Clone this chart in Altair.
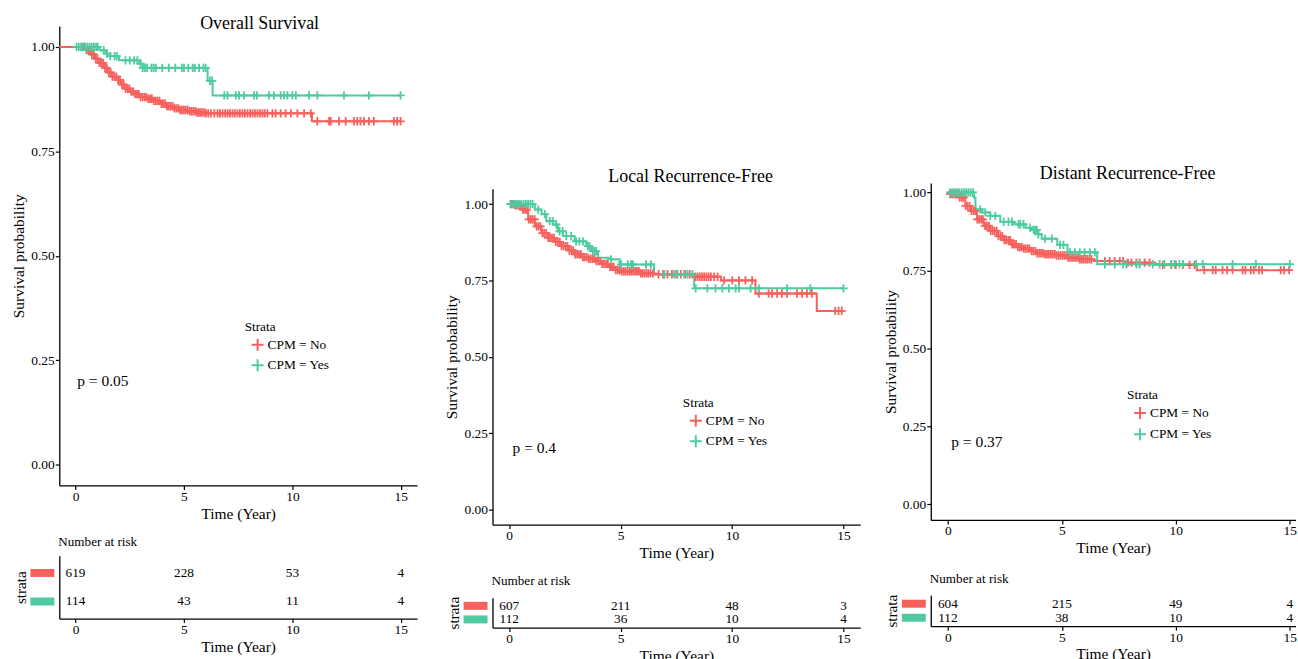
import altair as alt
import numpy as np
import pandas as pd

RED = "#F6605D"
GREEN = "#4FCBA0"
FONT = "Liberation Serif"
STRATA = ["CPM = No", "CPM = Yes"]
PLUS = "M-1,0L1,0M0,-1L0,1"
BAR = "M-1,-0.3333L1,-0.3333L1,0.3333L-1,0.3333Z"
X_TICKS = [0, 5, 10, 15]
Y_TICKS = [0, 0.25, 0.5, 0.75, 1.0]
RISK_TIMES = [0, 5, 10, 15]

TITLES = ["Overall Survival", "Local Recurrence-Free", "Distant Recurrence-Free"]
PVALUES = ["p = 0.05", "p = 0.4", "p = 0.37"]

# ---------------- Overall Survival ----------------
os_no_t = [-0.75, 0.35, 0.5, 0.7, 0.9, 1.1, 1.3, 1.5, 1.7, 1.9, 2.1, 2.3, 2.5, 2.7, 3.0, 3.3,
           3.6, 3.9, 4.2, 4.5, 4.8, 5.2, 5.6, 6.0, 10.9, 15.0]
os_no_s = [1.0, 1.0, 0.993, 0.982, 0.972, 0.962, 0.950, 0.939, 0.929, 0.921, 0.910, 0.900, 0.893,
           0.887, 0.880, 0.876, 0.871, 0.864, 0.858, 0.853, 0.849, 0.846, 0.843, 0.841, 0.822, 0.822]
os_yes_t = [0, 1.1, 1.38, 1.6, 2.0, 2.95, 3.1, 6.09, 6.32, 15.0]
os_yes_s = [1.0, 0.992, 0.984, 0.978, 0.968, 0.960, 0.950, 0.919, 0.884, 0.884]
os_no_cens = [0.32, 0.41, 0.5, 0.58, 0.67, 0.75, 0.84, 0.93, 1.01, 1.1, 1.18, 1.27, 1.36, 1.44,
              1.53, 1.62, 1.7, 1.79, 1.88, 1.96, 2.05, 2.14, 2.22, 2.31, 2.4, 2.48, 2.57, 2.66,
              2.74, 2.83, 2.92, 3.0, 3.09, 3.18, 3.26, 3.35, 3.44, 3.52, 3.61, 3.7, 3.78, 3.87,
              3.96, 4.04, 4.13, 4.22, 4.3, 4.39, 4.48, 4.56, 4.65, 4.74, 4.82, 4.91, 5.0, 5.08,
              5.17, 5.26, 5.34, 5.43, 5.52, 5.6, 5.69, 5.78, 5.86, 5.95, 6.01, 6.12, 6.24, 6.4,
              6.55, 6.66, 6.78, 6.9, 7.01, 7.12, 7.24, 7.35, 7.47, 7.58, 7.7, 7.81, 7.93, 8.05,
              8.16, 8.27, 8.39, 8.5, 8.62, 8.73, 8.85, 9.08, 9.23, 9.46, 9.69, 9.93, 10.23,
              10.54, 10.85, 11.15, 11.69, 11.77, 12.15, 12.46, 12.84, 12.99, 13.14, 13.3, 13.53,
              13.76, 14.68, 14.83, 14.99]
os_yes_cens = [0.05, 0.15, 0.25, 0.35, 0.45, 0.55, 0.65, 0.75, 0.85, 0.95, 1.02, 1.3, 1.45, 1.6,
               1.8, 1.9, 2.3, 2.5, 2.7, 2.85, 3.0, 3.1, 3.2, 3.3, 3.5, 3.6, 3.7, 4.0, 4.3, 4.6,
               4.9, 5.0, 5.2, 5.4, 5.5, 5.7, 5.9, 6.0, 6.2, 6.3, 6.86, 7.01, 7.39, 7.54, 7.77,
               8.23, 8.36, 8.92, 9.15, 9.46, 9.62, 9.77, 10.0, 10.16, 10.77, 11.15, 12.38,
               13.53, 14.99]
os_risk_no = [619, 228, 53, 4]
os_risk_yes = [114, 43, 11, 4]

# ---------------- Local Recurrence-Free ----------------
lr_no_t = [0, 0.25, 0.55, 0.85, 1.15, 1.45, 1.75, 2.05, 2.35, 2.65, 2.95, 3.25, 3.55, 3.85,
           4.15, 4.45, 4.75, 5.0, 5.9, 6.5, 8.3, 9.5, 11.05, 13.8, 15.0]
lr_no_s = [1.0, 0.996, 0.982, 0.950, 0.927, 0.905, 0.889, 0.876, 0.862, 0.848, 0.835, 0.826,
           0.821, 0.813, 0.804, 0.794, 0.784, 0.780, 0.773, 0.770, 0.762, 0.750, 0.707, 0.650,
           0.650]
lr_yes_t = [0, 1.15, 1.45, 1.67, 1.97, 2.19, 2.41, 2.93, 3.46, 3.68, 3.98, 4.57, 4.95, 6.5,
            8.3, 15.0]
lr_yes_s = [1.0, 0.982, 0.967, 0.944, 0.933, 0.911, 0.895, 0.878, 0.862, 0.846, 0.824, 0.819,
            0.802, 0.770, 0.724, 0.724]
lr_no_cens = [0.1, 0.19, 0.27, 0.36, 0.45, 0.53, 0.62, 0.71, 0.79, 0.88, 0.97, 1.05, 1.14, 1.23,
              1.31, 1.4, 1.49, 1.57, 1.66, 1.75, 1.83, 1.92, 2.01, 2.09, 2.18, 2.27, 2.35, 2.44,
              2.53, 2.61, 2.7, 2.79, 2.87, 2.96, 3.05, 3.13, 3.22, 3.31, 3.39, 3.48, 3.57, 3.65,
              3.74, 3.83, 3.91, 4.0, 4.09, 4.17, 4.26, 4.35, 4.43, 4.52, 4.61, 4.69, 4.78, 4.87,
              4.95, 5.04, 5.13, 5.21, 5.3, 5.39, 5.47, 5.56, 5.65, 5.73, 5.82, 5.91, 5.99, 6.08,
              6.17, 6.25, 6.34, 6.45, 6.7, 6.9, 7.1, 7.3, 7.5, 7.7, 7.9, 8.1, 8.35, 8.45, 8.55,
              8.65, 8.75, 8.85, 8.95, 9.05, 9.2, 9.35, 9.64, 10.01, 10.31, 10.6, 10.9, 11.2,
              11.64, 11.79, 12.02, 12.24, 12.47, 12.91, 13.14, 13.36, 13.58, 14.63, 14.78, 14.92]
lr_yes_cens = [0.05, 0.15, 0.25, 0.35, 0.45, 0.55, 0.65, 0.75, 0.85, 0.95, 1.05, 1.3, 1.6, 1.82,
               1.95, 2.11, 2.26, 2.4, 2.56, 2.78, 3.0, 3.15, 3.31, 3.53, 3.6, 3.75, 3.83, 3.9,
               4.57, 5.02, 5.32, 5.47, 5.55, 6.14, 6.36, 6.96, 7.4, 7.55, 7.85, 8.0, 8.22, 8.37,
               8.89, 9.26, 9.56, 9.86, 10.16, 10.31, 10.83, 11.2, 12.47, 13.51, 15.0]
lr_risk_no = [607, 211, 48, 3]
lr_risk_yes = [112, 36, 10, 4]

# ---------------- Distant Recurrence-Free ----------------
dr_no_t = [0, 0.05, 0.5, 0.77, 0.99, 1.28, 1.57, 1.86, 2.15, 2.45, 2.74, 3.03, 3.32, 3.61,
           3.90, 4.19, 4.77, 5.21, 5.79, 6.4, 7.7, 9.1, 10.92, 15.0]
dr_no_s = [1.0, 0.995, 0.984, 0.957, 0.941, 0.914, 0.893, 0.877, 0.860, 0.847, 0.834, 0.825,
           0.820, 0.812, 0.805, 0.802, 0.798, 0.791, 0.786, 0.780, 0.775, 0.768, 0.751, 0.751]
dr_yes_t = [0, 1.14, 1.21, 1.5, 1.86, 2.3, 2.9, 3.4, 3.7, 3.97, 4.12, 4.8, 5.25, 6.55, 15.0]
dr_yes_s = [1.0, 0.984, 0.946, 0.936, 0.925, 0.906, 0.898, 0.887, 0.880, 0.866, 0.852, 0.832,
            0.808, 0.770, 0.770]
dr_no_cens = [0.1, 0.18, 0.27, 0.35, 0.44, 0.52, 0.61, 0.69, 0.78, 0.86, 0.95, 1.03, 1.12, 1.2,
              1.29, 1.37, 1.46, 1.54, 1.63, 1.71, 1.8, 1.88, 1.97, 2.05, 2.14, 2.22, 2.31, 2.39,
              2.48, 2.56, 2.65, 2.73, 2.82, 2.9, 2.99, 3.07, 3.16, 3.24, 3.33, 3.41, 3.5, 3.58,
              3.67, 3.75, 3.84, 3.92, 4.01, 4.09, 4.18, 4.26, 4.35, 4.43, 4.52, 4.6, 4.69, 4.77,
              4.86, 4.94, 5.03, 5.11, 5.2, 5.28, 5.37, 5.45, 5.54, 5.62, 5.71, 5.79, 5.88, 5.96,
              6.05, 6.13, 6.22, 6.3, 6.89, 7.1, 7.32, 7.54, 7.69, 7.9, 8.05, 8.27, 8.41, 8.63,
              8.85, 9.43, 9.8, 10.0, 10.31, 10.6, 10.82, 11.25, 11.62, 11.75, 12.05, 12.25,
              12.49, 12.93, 13.05, 13.29, 13.42, 13.65, 13.78, 14.6, 14.75, 14.97]
dr_yes_cens = [0.1, 0.2, 0.3, 0.4, 0.5, 0.6, 0.7, 0.8, 0.9, 1.0, 1.1, 1.42, 1.64, 1.86, 2.08,
               2.45, 2.66, 2.81, 3.1, 3.18, 3.32, 3.61, 3.76, 3.83, 3.9, 3.97, 4.26, 4.56, 4.92,
               5.07, 5.36, 5.57, 5.79, 6.0, 6.23, 6.45, 6.89, 7.32, 7.69, 7.83, 8.27, 8.41, 8.99,
               9.29, 9.5, 9.8, 9.95, 10.16, 10.31, 10.89, 11.18, 12.49, 13.51, 15.0]
dr_risk_no = [604, 215, 49, 4]
dr_risk_yes = [112, 38, 10, 4]


def surv_at(ts, ss, t):
    i = int(np.searchsorted(np.asarray(ts), t, side="right")) - 1
    return ss[max(i, 0)]


def curves_df(no_t, no_s, yes_t, yes_s):
    a = pd.DataFrame({"t": no_t, "s": no_s, "strata": STRATA[0]})
    b = pd.DataFrame({"t": yes_t, "s": yes_s, "strata": STRATA[1]})
    return pd.concat([a, b], ignore_index=True)


def cens_df(no_t, no_s, no_c, yes_t, yes_s, yes_c):
    rows = [{"t": c, "s": surv_at(no_t, no_s, c), "strata": STRATA[0]} for c in no_c]
    rows += [{"t": c, "s": surv_at(yes_t, yes_s, c), "strata": STRATA[1]} for c in yes_c]
    return pd.DataFrame(rows)


def risk_df(no, yes):
    return pd.DataFrame({"t": RISK_TIMES * 2,
                         "strata": [STRATA[0]] * 4 + [STRATA[1]] * 4,
                         "n": list(no) + list(yes)})


COLOR_SCALE = alt.Scale(domain=STRATA, range=[RED, GREEN])


def x_axis():
    return alt.Axis(values=X_TICKS, title="Time (Year)", format="d", tickSize=4,
                    labelPadding=0, titlePadding=3.3, labelFontSize=13.5, titleFontSize=15.5,
                    labelFlush=False)


def panel(cfg):
    xs = alt.Scale(domain=cfg["xdom"], nice=False, zero=False)
    ys = alt.Scale(domain=cfg["ydom"], nice=False, zero=False)
    xa = x_axis()
    ya = alt.Axis(values=Y_TICKS, format=".2f", title="Survival probability", tickSize=4,
                  labelPadding=1, titlePadding=4, labelFontSize=13.5, titleFontSize=15.5,
                  labelFlush=False)
    X = alt.X("t:Q", scale=xs, axis=xa)
    Y = alt.Y("s:Q", scale=ys, axis=ya)
    legend = alt.Legend(title="Strata", orient="none", legendX=cfg["legx"], legendY=cfg["legy"],
                        symbolType=PLUS, symbolSize=144, symbolStrokeWidth=2, symbolOffset=6,
                        labelOffset=3, rowPadding=cfg["rowpad"], titlePadding=4.4, padding=0,
                        titleFont=FONT, titleFontSize=13.3, titleFontWeight="normal",
                        labelFont=FONT, labelFontSize=13.4, titleColor="black",
                        labelColor="black")
    C = alt.Color("strata:N", scale=COLOR_SCALE, legend=legend)
    lines = alt.Chart(cfg["curves"]).mark_line(interpolate="step-after", strokeWidth=2).encode(
        x=X, y=Y, color=C)
    pts = alt.Chart(cfg["cens"]).mark_point(shape=PLUS, size=70, strokeWidth=1.8, filled=False,
                                            opacity=1).encode(x=X, y=Y, color=C)
    ptxt = alt.Chart(pd.DataFrame({"t": [cfg["px"]], "s": [0.2], "label": [cfg["p"]]})).mark_text(
        align="left", baseline="middle", font=FONT, fontSize=15.5, color="black").encode(
        x=X, y=Y, text="label:N")
    km = alt.layer(lines, pts, ptxt).properties(
        width=cfg["w"], height=cfg["h"],
        title=alt.TitleParams(cfg["title"], font=FONT, fontSize=18, fontWeight="normal",
                              anchor="middle", dx=cfg["tdx"], offset=cfg["toff"],
                              baseline="alphabetic", color="black"))

    ty = alt.Y("strata:N", scale=alt.Scale(domain=STRATA, type="point", padding=0.6),
               axis=alt.Axis(title="strata", labels=False, ticks=False, titlePadding=31,
                             titleFontSize=15.2))
    tx = alt.X("t:Q", scale=xs, axis=x_axis())
    sw = alt.Chart(pd.DataFrame({"strata": STRATA})).mark_point(
        shape=BAR, size=576, filled=True, opacity=1).encode(
        x=alt.value(-17), y=ty, color=alt.Color("strata:N", scale=COLOR_SCALE, legend=None))
    nums = alt.Chart(cfg["risk"]).mark_text(font=FONT, fontSize=13.3, color="black",
                                            baseline="middle").encode(
        x=tx, y=ty, text="n:Q")
    tab = alt.layer(sw, nums).properties(
        width=cfg["w"], height=cfg["th"],
        title=alt.TitleParams("Number at risk", font=FONT, fontSize=13.2, fontWeight="normal",
                              anchor="start", frame="group", offset=cfg["noff"],
                              baseline="alphabetic", color="black", dx=-1))
    parts = []
    if cfg["spacer"] > 0:
        parts.append(alt.Chart(pd.DataFrame({"v": [0]})).mark_point(opacity=0).encode(
            x=alt.value(0), y=alt.value(0)).properties(width=cfg["w"], height=cfg["spacer"]))
    parts += [km, tab]
    return alt.vconcat(*parts, spacing=cfg["vs"]).resolve_scale(
        x="independent", y="independent", color="independent").resolve_legend(color="independent")


cfgs = [
    dict(title=TITLES[0], p=PVALUES[0], px=0.08, xdom=[-0.75, 15.75], ydom=[-0.05, 1.05],
         w=359, h=461, th=63, tdx=21.5, toff=-21.3, noff=-3.2, legx=186, legy=295, rowpad=0.6,
         spacer=0, vs=12.6,
         curves=curves_df(os_no_t, os_no_s, os_yes_t, os_yes_s),
         cens=cens_df(os_no_t, os_no_s, os_no_cens, os_yes_t, os_yes_s, os_yes_cens),
         risk=risk_df(os_risk_no, os_risk_yes)),
    dict(title=TITLES[1], p=PVALUES[1], px=0.15, xdom=[-0.75, 15.75], ydom=[-0.05, 1.05],
         w=369, h=337, th=30, tdx=14.3, toff=-10.7, noff=-2.2, legx=191, legy=208, rowpad=0.6,
         spacer=128.4, vs=12.3,
         curves=curves_df(lr_no_t, lr_no_s, lr_yes_t, lr_yes_s),
         cens=cens_df(lr_no_t, lr_no_s, lr_no_cens, lr_yes_t, lr_yes_s, lr_yes_cens),
         risk=risk_df(lr_risk_no, lr_risk_yes)),
    dict(title=TITLES[2], p=PVALUES[2], px=0.15, xdom=[-0.75, 15.25], ydom=[-0.05, 1.03],
         w=366, h=338, th=31, tdx=14.5, toff=-14, noff=-2.2, legx=197, legy=206, rowpad=1.3,
         spacer=123.7, vs=15.6,
         curves=curves_df(dr_no_t, dr_no_s, dr_yes_t, dr_yes_s),
         cens=cens_df(dr_no_t, dr_no_s, dr_no_cens, dr_yes_t, dr_yes_s, dr_yes_cens),
         risk=risk_df(dr_risk_no, dr_risk_yes)),
]

cols = [panel(c) for c in cfgs]
inner = alt.hconcat(cols[0], cols[1], spacing=27.7).resolve_scale(
    x="independent", y="independent", color="independent").resolve_legend(color="independent")
chart = alt.hconcat(inner, cols[2], spacing=22.5).resolve_scale(
    x="independent", y="independent", color="independent").resolve_legend(
    color="independent").properties(
    padding={"left": 11.5, "top": 14, "right": 0, "bottom": 0}
).configure_view(stroke=None).configure_axis(
    domainColor="black", domainWidth=1.3, tickColor="black", tickWidth=1.2,
    labelColor="black", titleColor="black", labelFont=FONT, titleFont=FONT,
    titleFontWeight="normal", grid=False
)

chart.save("out.html", embed_options={"renderer": "svg", "actions": False})
